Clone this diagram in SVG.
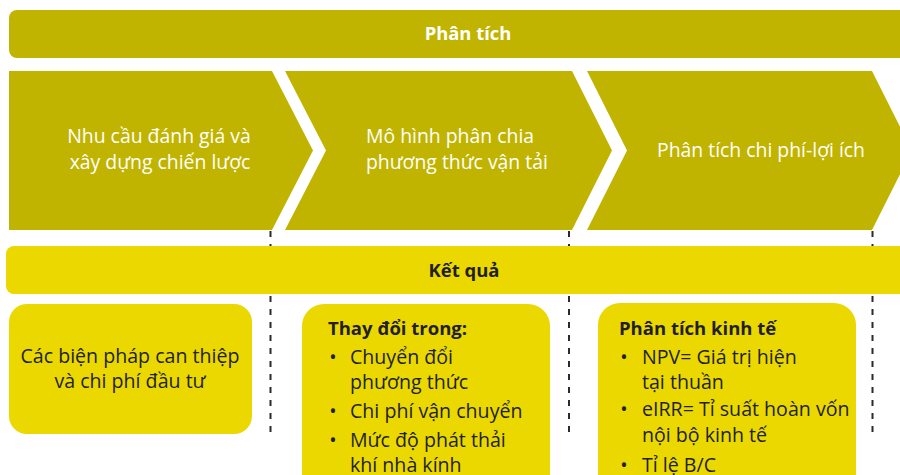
<svg xmlns="http://www.w3.org/2000/svg" width="900" height="475" viewBox="0 0 900 475">
<style>
.olive{fill:#C1B400}
.yel{fill:#EAD800}
.wt{font-family:"Open Sans","Noto Sans","DejaVu Sans",sans-serif;font-size:19.4px;fill:#FFFFFF}
.wb{font-family:"Open Sans","Noto Sans","DejaVu Sans",sans-serif;font-size:18.4px;font-weight:bold;fill:#FFFFFF}
.kb{font-family:"Open Sans","Noto Sans","DejaVu Sans",sans-serif;font-size:18.5px;font-weight:bold;fill:#231F20}
.bt{font-family:"Open Sans","Noto Sans","DejaVu Sans",sans-serif;font-size:19.6px;fill:#231F20}
.dash{stroke:#2B2B2B;stroke-width:2;stroke-dasharray:6 7;fill:none}
</style>
<rect width="900" height="475" fill="#FFFFFF"/>
<g id="connectors">
<line class="dash" x1="270.5" y1="231" x2="270.5" y2="436"/>
<line class="dash" x1="569" y1="231" x2="569" y2="436"/>
<line class="dash" x1="872.5" y1="231" x2="872.5" y2="436"/>
</g>
<g id="phan-tich">
<rect class="olive" x="9" y="10" width="910" height="48" rx="8"/>
<text class="wb" x="468" y="40" text-anchor="middle">Phân tích</text>
</g>
<g id="step1">
<polygon class="olive" points="9,71 272,71 313,150.5 272,230 9,230"/>
<text class="wt" x="159" y="143" text-anchor="middle">Nhu cầu đánh giá và</text>
<text class="wt" x="160" y="169" text-anchor="middle">xây dựng chiến lược</text>
</g>
<g id="step2">
<polygon class="olive" points="285,71 572,71 612,150.5 572,230 285,230 326,150.5"/>
<text class="wt" x="366" y="143">Mô hình phân chia</text>
<text class="wt" x="366" y="169">phương thức vận tải</text>
</g>
<g id="step3">
<polygon class="olive" points="587,71 872,71 912,150.5 872,230 587,230 627,150.5"/>
<text class="wt" x="761" y="157" text-anchor="middle">Phân tích chi phí-lợi ích</text>
</g>
<g id="ket-qua">
<rect class="yel" x="6" y="246" width="910" height="48" rx="8"/>
<text class="kb" x="464" y="277" text-anchor="middle">Kết quả</text>
</g>
<g id="box1">
<rect class="yel" x="9" y="304" width="243" height="130" rx="18"/>
<text class="bt" x="130" y="363" text-anchor="middle">Các biện pháp can thiệp</text>
<text class="bt" x="130" y="388" text-anchor="middle">và chi phí đầu tư</text>
</g>
<g id="box2">
<rect class="yel" x="302" y="304" width="248" height="195" rx="22"/>
<text class="kb" x="328" y="335">Thay đổi trong:</text>
<text class="bt" x="333" y="364" text-anchor="middle">•</text>
<text class="bt" x="350" y="364">Chuyển đổi</text>
<text class="bt" x="350" y="389">phương thức</text>
<text class="bt" x="333" y="418" text-anchor="middle">•</text>
<text class="bt" x="350" y="418">Chi phí vận chuyển</text>
<text class="bt" x="333" y="447" text-anchor="middle">•</text>
<text class="bt" x="350" y="447">Mức độ phát thải</text>
<text class="bt" x="350" y="472">khí nhà kính</text>
</g>
<g id="box3">
<rect class="yel" x="598" y="303" width="258" height="195" rx="22"/>
<text class="kb" x="619" y="335">Phân tích kinh tế</text>
<text class="bt" x="624" y="364" text-anchor="middle">•</text>
<text class="bt" x="642" y="364">NPV= Giá trị hiện</text>
<text class="bt" x="642" y="389">tại thuần</text>
<text class="bt" x="624" y="416" text-anchor="middle">•</text>
<text class="bt" x="642" y="416">eIRR= Tỉ suất hoàn vốn</text>
<text class="bt" x="642" y="442">nội bộ kinh tế</text>
<text class="bt" x="624" y="472" text-anchor="middle">•</text>
<text class="bt" x="642" y="472">Tỉ lệ B/C</text>
</g>
</svg>
